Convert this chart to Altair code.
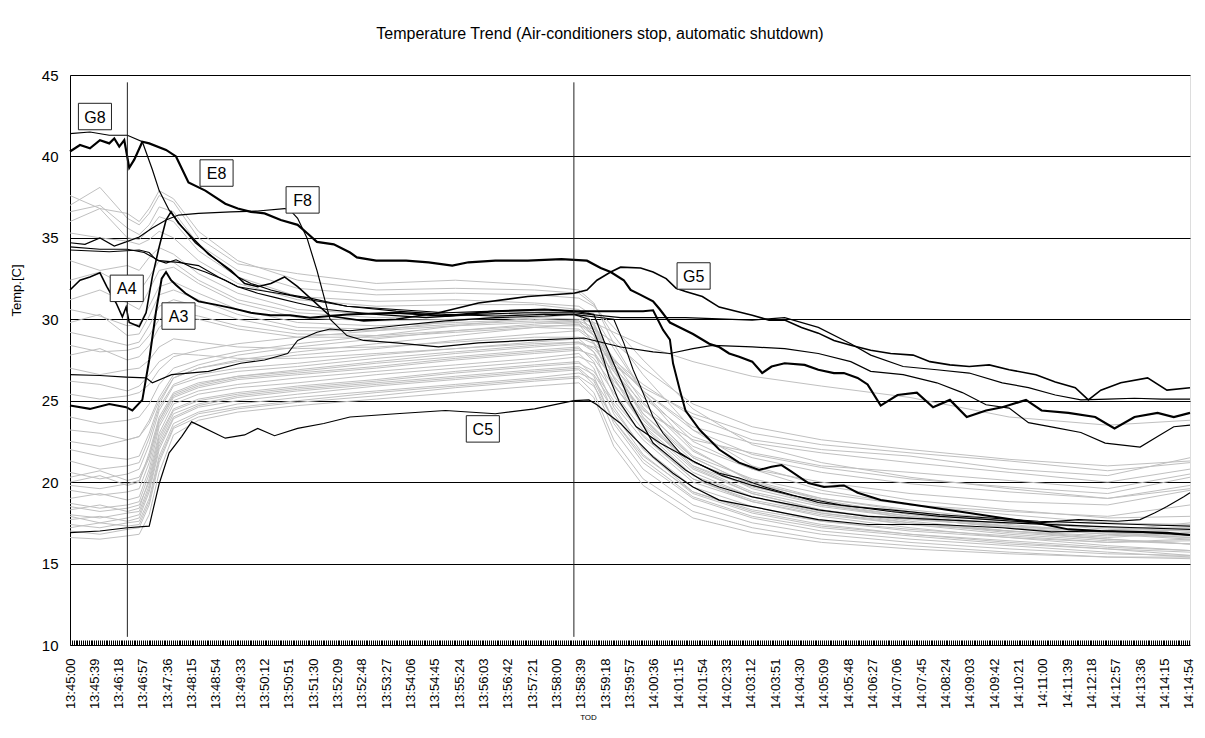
import altair as alt
import pandas as pd

# ---------------- data (time = seconds after 13:45:00, value = deg C) ----------------
GRAY_T = [0, 48, 92, 111, 127, 143, 166, 206, 269, 365, 491, 618, 745, 816, 840, 872, 919, 999, 1094, 1205, 1347, 1506, 1664, 1796]

U1 = [37.0, 38.1, 36.2, 35.8, 36.5, 37.6, 37.2, 35.0, 33.4, 32.8, 32.2, 32.4, 32.1, 31.8, 31.0, 28.5, 25.5, 22.0, 20.0, 18.9, 18.0, 17.4, 16.9, 16.6]
U2 = [36.6, 37.0, 35.6, 35.2, 35.8, 36.9, 36.6, 34.6, 33.0, 31.9, 31.5, 31.6, 31.5, 31.3, 30.8, 29.5, 27.5, 24.5, 22.3, 21.2, 20.3, 19.6, 19.0, 19.6]
U3 = [36.0, 36.8, 35.0, 34.9, 35.5, 36.3, 36.0, 34.2, 32.6, 31.4, 31.1, 31.2, 31.0, 30.8, 30.2, 28.2, 25.5, 22.5, 20.8, 19.5, 18.6, 18.0, 17.5, 17.4]
U4 = [37.6, 36.8, 36.5, 36.0, 36.8, 37.9, 37.4, 35.4, 33.6, 32.4, 31.8, 31.9, 31.8, 31.6, 30.9, 29.0, 26.6, 23.2, 21.0, 19.8, 18.9, 18.3, 17.8, 17.9]
M1 = [35.3, 35.0, 34.8, 34.6, 34.9, 35.4, 35.0, 33.6, 32.2, 31.2, 30.8, 30.9, 30.9, 30.6, 29.6, 27.2, 24.6, 21.5, 19.8, 18.6, 17.8, 17.2, 16.8, 16.5]
M2 = [33.6, 33.0, 33.3, 33.0, 33.8, 34.4, 34.0, 32.8, 31.6, 30.6, 30.3, 30.4, 30.5, 30.3, 29.0, 26.4, 23.8, 20.9, 19.3, 18.3, 17.5, 16.9, 16.5, 16.2]
M3 = [31.2, 31.8, 31.0, 30.6, 31.8, 33.0, 33.2, 32.2, 31.0, 30.1, 29.9, 30.0, 30.1, 30.0, 29.8, 29.2, 28.4, 27.4, 26.5, 25.9, 25.2, 24.0, 23.5, 23.8]
M4 = [30.6, 30.2, 29.6, 29.7, 30.8, 32.0, 32.3, 31.6, 30.6, 29.8, 29.6, 29.8, 30.0, 29.9, 29.0, 27.0, 25.2, 22.8, 21.5, 20.6, 19.9, 19.4, 19.0, 19.8]
M5 = [29.2, 28.8, 28.4, 28.6, 29.6, 30.8, 31.2, 30.8, 30.0, 29.3, 29.3, 29.6, 29.8, 29.7, 28.5, 26.0, 23.6, 21.2, 19.9, 19.0, 18.3, 17.7, 17.2, 17.0]
M6 = [27.8, 28.2, 27.5, 27.7, 28.4, 29.5, 30.2, 30.0, 29.4, 28.9, 28.9, 29.2, 29.5, 29.4, 28.8, 27.2, 25.8, 24.2, 23.0, 22.3, 21.8, 21.3, 20.7, 21.2]
M7 = [27.0, 26.6, 26.9, 27.0, 27.5, 28.3, 28.8, 28.6, 28.3, 28.2, 28.3, 28.6, 28.9, 28.9, 28.5, 27.5, 26.0, 24.0, 22.6, 22.0, 21.6, 20.8, 20.4, 21.5]
M8 = [26.2, 26.0, 25.6, 25.9, 26.6, 27.4, 27.9, 27.8, 27.6, 27.6, 27.9, 28.2, 28.5, 28.6, 28.0, 26.2, 24.4, 22.6, 21.8, 21.0, 20.6, 20.1, 19.6, 20.5]
M9 = [32.4, 32.9, 32.0, 31.7, 32.6, 33.6, 33.5, 32.4, 31.2, 30.4, 30.1, 30.2, 30.4, 30.2, 29.3, 26.8, 24.2, 21.3, 19.6, 18.6, 17.9, 17.3, 16.9, 16.7]
M10 = [29.8, 30.3, 29.0, 29.1, 30.2, 31.5, 31.8, 31.2, 30.3, 29.5, 29.4, 29.7, 29.9, 29.8, 29.2, 27.6, 25.6, 23.2, 21.7, 20.9, 20.2, 19.7, 19.3, 20.3]
M11 = [28.4, 28.0, 28.1, 28.3, 29.0, 30.0, 30.5, 30.2, 29.6, 29.1, 29.0, 29.3, 29.6, 29.6, 29.4, 28.6, 27.0, 24.8, 23.4, 22.6, 22.0, 21.4, 21.0, 21.3]
L1 = [22.0, 21.6, 21.4, 21.6, 23.0, 24.8, 26.4, 27.0, 27.4, 27.8, 28.2, 28.7, 29.1, 29.3, 28.6, 26.0, 23.5, 20.8, 19.3, 18.3, 17.6, 17.0, 16.5, 16.2]
L2 = [21.3, 20.8, 21.0, 21.2, 22.7, 24.6, 26.0, 26.6, 27.0, 27.3, 27.8, 28.2, 28.6, 28.8, 28.0, 25.3, 22.8, 20.2, 18.8, 17.9, 17.2, 16.6, 16.1, 15.8]
L3 = [20.6, 20.2, 20.5, 20.8, 22.3, 24.4, 25.9, 26.4, 26.8, 27.1, 27.6, 28.0, 28.4, 28.6, 28.2, 26.8, 24.8, 22.2, 20.8, 20.0, 19.3, 18.8, 18.6, 19.5]
L4 = [20.0, 20.4, 19.8, 20.0, 21.8, 24.0, 25.5, 26.1, 26.5, 26.8, 27.3, 27.7, 28.1, 28.3, 27.4, 24.6, 22.0, 19.4, 18.2, 17.4, 16.8, 16.3, 15.9, 15.5]
L5 = [19.5, 19.2, 19.4, 19.6, 21.2, 23.6, 25.2, 25.8, 26.3, 26.6, 27.0, 27.5, 27.9, 28.1, 27.8, 26.5, 24.5, 21.6, 20.2, 19.3, 18.6, 18.2, 17.9, 18.6]
L6 = [19.0, 19.3, 18.9, 19.1, 20.8, 23.4, 25.0, 25.6, 26.0, 26.4, 26.8, 27.2, 27.6, 27.9, 27.0, 24.2, 21.7, 19.3, 18.1, 17.3, 16.8, 16.4, 16.0, 15.8]
L7 = [18.7, 18.4, 18.6, 18.8, 20.5, 23.0, 24.8, 25.4, 25.8, 26.1, 26.6, 27.0, 27.4, 27.7, 27.3, 25.5, 23.2, 20.4, 19.1, 18.2, 17.7, 17.3, 17.0, 17.5]
L8 = [18.3, 18.6, 18.2, 18.4, 20.2, 22.8, 24.5, 25.1, 25.5, 25.9, 26.3, 26.8, 27.2, 27.4, 26.5, 23.6, 21.2, 19.0, 17.8, 17.0, 16.5, 16.1, 15.7, 15.4]
L9 = [18.0, 17.8, 18.1, 18.2, 19.8, 22.4, 24.2, 24.8, 25.3, 25.7, 26.1, 26.5, 26.9, 27.1, 26.6, 24.8, 22.6, 20.0, 18.8, 18.0, 17.4, 17.0, 16.6, 16.9]
L10 = [17.7, 17.9, 17.6, 17.8, 19.4, 22.0, 23.9, 24.6, 25.0, 25.4, 25.9, 26.3, 26.7, 26.9, 26.0, 23.2, 20.8, 18.6, 17.5, 16.8, 16.3, 15.9, 15.6, 15.5]
L11 = [17.4, 17.2, 17.5, 17.6, 19.0, 21.6, 23.6, 24.3, 24.8, 25.2, 25.6, 26.0, 26.4, 26.7, 26.3, 24.4, 22.1, 19.7, 18.5, 17.6, 17.1, 16.7, 16.3, 16.5]
L12 = [17.0, 16.8, 17.1, 17.2, 18.6, 21.2, 23.3, 24.0, 24.5, 24.9, 25.3, 25.8, 26.2, 26.4, 25.5, 22.6, 20.2, 18.2, 17.2, 16.5, 16.1, 15.7, 15.4, 15.3]
L13 = [20.3, 20.7, 20.1, 20.3, 21.6, 23.8, 25.4, 26.0, 26.5, 26.9, 27.4, 27.9, 28.3, 28.5, 28.3, 27.4, 25.6, 23.4, 22.4, 21.8, 21.2, 20.6, 20.0, 20.8]
L14 = [22.5, 22.2, 22.6, 22.8, 23.8, 25.2, 26.6, 27.2, 27.8, 28.3, 28.8, 29.3, 29.7, 29.9, 29.5, 27.0, 24.2, 21.5, 19.8, 18.7, 17.9, 17.3, 16.9, 16.8]
L15 = [24.0, 23.6, 23.8, 24.0, 24.8, 26.0, 27.0, 27.5, 28.0, 28.5, 29.0, 29.6, 30.1, 30.3, 29.7, 27.5, 24.9, 21.9, 20.1, 19.0, 18.2, 17.6, 17.1, 17.0]
L16 = [25.4, 25.1, 25.3, 25.5, 26.0, 26.9, 27.7, 28.1, 28.5, 28.9, 29.3, 29.9, 30.4, 30.6, 29.8, 27.0, 24.0, 21.0, 19.4, 18.5, 17.8, 17.2, 16.8, 16.6]
L17 = [23.2, 23.0, 22.6, 22.8, 23.6, 25.0, 26.4, 27.0, 27.5, 28.0, 28.5, 29.0, 29.5, 29.7, 29.0, 26.4, 23.4, 20.6, 19.1, 18.1, 17.4, 16.8, 16.4, 16.2]
L18 = [19.8, 19.6, 19.9, 20.1, 21.5, 23.8, 25.3, 25.9, 26.4, 26.7, 27.1, 27.6, 28.0, 28.2, 27.6, 25.9, 23.9, 21.0, 19.7, 18.8, 18.1, 17.6, 17.2, 17.2]
L19 = [18.5, 18.2, 18.4, 18.6, 20.0, 22.6, 24.4, 25.0, 25.4, 25.8, 26.2, 26.7, 27.1, 27.3, 26.8, 25.0, 22.9, 20.2, 18.9, 18.1, 17.5, 17.0, 16.7, 16.9]
L20 = [17.9, 17.5, 17.8, 18.0, 19.6, 22.2, 24.0, 24.7, 25.2, 25.6, 26.0, 26.4, 26.8, 27.0, 26.2, 23.8, 21.4, 19.1, 17.9, 17.2, 16.7, 16.2, 15.9, 15.7]
L21 = [17.2, 17.5, 17.3, 17.4, 18.8, 21.4, 23.4, 24.2, 24.6, 25.0, 25.5, 25.9, 26.3, 26.5, 25.9, 23.8, 21.6, 19.4, 18.3, 17.6, 17.0, 16.6, 16.3, 16.4]
L22 = [16.6, 16.5, 16.7, 16.8, 18.0, 20.6, 22.9, 23.8, 24.3, 24.7, 25.1, 25.5, 25.9, 26.1, 25.2, 22.2, 19.8, 17.8, 16.9, 16.3, 15.9, 15.6, 15.4, 15.4]

GRAY = [U1, U2, U3, U4, M1, M2, M3, M4, M5, M6, M7, M8, M9, M10, M11,
        L1, L2, L3, L4, L5, L6, L7, L8, L9, L10, L11, L12, L13, L14, L15, L16,
        L17, L18, L19, L20, L21, L22]

# highlighted (black) sensors
E8_T = [0, 16, 32, 48, 63, 71, 79, 87, 95, 103, 116, 127, 154, 170, 190, 217, 249, 269, 290, 312,
        338, 365, 380, 396, 423, 449, 460, 491, 539, 575, 613, 639, 682, 734, 788, 829, 851, 867, 888, 899,
        915, 935, 946, 956, 962, 978, 999, 1025, 1041, 1057, 1073, 1094, 1110, 1125, 1146, 1178, 1200, 1225, 1241, 1263,
        1279, 1300, 1327, 1358, 1384, 1411, 1438, 1469, 1495, 1533, 1558, 1601, 1644, 1675, 1707, 1744, 1770, 1796]
E8_V = [40.3, 40.7, 40.5, 41.0, 40.8, 41.1, 40.6, 41.0, 39.3, 39.8, 40.9, 40.8, 40.4, 40.0, 38.4, 37.9, 37.1, 36.8, 36.6, 36.5,
        36.1, 35.8, 35.3, 34.75, 34.6, 34.1, 33.8, 33.6, 33.6, 33.5, 33.3, 33.5, 33.6, 33.6, 33.7, 33.6, 33.15, 32.9, 32.4, 31.8,
        31.5, 31.1, 30.6, 30.1, 29.8, 29.5, 29.1, 28.5, 28.3, 27.9, 27.7, 27.4, 26.7, 27.1, 27.3, 27.2, 26.9, 26.7, 26.7, 26.4,
        26.0, 24.7, 25.35, 25.5, 24.6, 25.05, 24.0, 24.4, 24.6, 25.05, 24.4, 24.25, 24.0, 23.3, 24.0, 24.25, 24.0, 24.25]

G8_T = [0, 32, 63, 92, 116, 132, 143, 159, 179, 201, 222, 249, 269, 290, 322, 353, 385, 444, 523, 602,
        682, 761, 808, 840, 856, 883, 899, 935, 962, 987, 1014, 1041, 1094, 1146, 1200, 1279, 1395, 1506, 1633, 1712, 1796]
G8_V = [41.4, 41.5, 41.3, 41.3, 40.9, 39.2, 37.9, 36.7, 35.7, 34.7, 34.05, 33.2, 32.6, 32.2, 31.8, 31.5, 31.3, 30.8, 30.6, 30.4,
        30.5, 30.6, 30.5, 30.3, 28.7, 26.3, 24.85, 22.4, 21.55, 20.75, 20.1, 19.7, 19.1, 18.7, 18.3, 17.9, 17.7, 17.5, 17.3, 17.2, 17.1]

F8_T = [0, 24, 48, 71, 90, 111, 132, 154, 174, 206, 258, 301, 344, 353, 365, 380, 396, 417, 444, 471,
        523, 591, 655, 734, 824, 883, 935, 962, 999, 1030, 1094, 1146, 1200, 1252, 1284, 1336, 1390, 1431, 1469, 1506,
        1537, 1580, 1621, 1660, 1716, 1744, 1770, 1796]
F8_V = [34.7, 34.6, 35.0, 34.5, 34.75, 35.05, 35.6, 36.1, 36.4, 36.5, 36.6, 36.65, 36.8, 36.7, 36.2, 35.0, 33.0, 30.0, 29.0, 28.7,
        28.55, 28.3, 28.55, 28.7, 28.85, 28.3, 28.0, 27.9, 28.2, 28.4, 28.3, 28.2, 27.9, 27.4, 26.8, 26.6, 26.1, 25.5, 24.75, 24.55,
        23.65, 23.35, 23.05, 22.4, 22.15, 22.8, 23.4, 23.5]

B1_T = [0, 48, 92, 119, 143, 174, 206, 238, 269, 301, 333, 365, 412, 491, 571, 650, 729, 808, 883, 987,
        1094, 1146, 1200, 1252, 1284, 1336, 1390, 1442, 1495, 1537, 1580, 1621, 1664, 1707, 1751, 1796]
B1_V = [34.45, 34.3, 34.3, 34.1, 33.6, 33.5, 33.3, 32.6, 32.0, 31.6, 31.3, 31.0, 30.6, 30.3, 30.1, 30.3, 30.4, 30.4, 30.1, 30.1,
        29.95, 30.1, 29.5, 28.5, 27.8, 27.1, 26.9, 26.7, 26.1, 25.8, 25.35, 25.05, 25.1, 25.15, 25.1, 25.1]

A4_T = [0, 16, 32, 48, 59, 74, 84, 90, 95, 111, 122, 132, 143, 154, 162, 174, 195, 222, 258, 280,
        301, 322, 344, 365, 417, 471, 523, 591, 655, 734, 808, 829, 845, 867, 883, 915, 935, 956, 972, 987,
        1014, 1041, 1073, 1094, 1121, 1146, 1173, 1200, 1225, 1252, 1284, 1316, 1352, 1379, 1411, 1442, 1474, 1506, 1549, 1580,
        1612, 1633, 1653, 1685, 1728, 1759, 1796]
A4_V = [31.8, 32.4, 32.6, 32.85, 32.0, 31.0, 30.15, 30.75, 29.8, 29.55, 30.4, 32.6, 34.45, 36.1, 36.6, 35.9, 35.05, 34.0, 33.0, 32.2,
        32.0, 32.2, 32.6, 32.0, 30.2, 29.9, 30.0, 30.4, 31.0, 31.4, 31.6, 31.8, 32.4, 32.9, 33.2, 33.15, 32.9, 32.5, 31.9, 31.7,
        31.4, 30.75, 30.45, 30.25, 29.95, 29.95, 29.5, 29.15, 28.7, 28.4, 28.1, 27.9, 27.8, 27.4, 27.2, 27.1, 27.2, 26.9, 26.6, 26.15,
        25.8, 25.05, 25.65, 26.1, 26.4, 25.65, 25.8]

A3_T = [0, 32, 63, 90, 100, 116, 127, 138, 147, 154, 162, 170, 185, 206, 233, 258, 290, 322, 353, 385,
        444, 523, 602, 682, 761, 808, 872, 919, 935, 951, 962, 967, 978, 987, 1010, 1041, 1073, 1105, 1125, 1141,
        1157, 1184, 1209, 1241, 1263, 1300, 1336, 1390, 1442, 1495, 1549, 1601, 1653, 1707, 1759, 1796]
A3_V = [24.7, 24.5, 24.8, 24.6, 24.4, 25.05, 27.5, 30.5, 32.5, 32.9, 32.4, 32.1, 31.6, 31.1, 30.9, 30.7, 30.4, 30.25, 30.25, 30.1,
        30.3, 30.4, 30.2, 30.5, 30.6, 30.5, 30.5, 30.5, 30.55, 29.35, 28.75, 27.3, 25.65, 24.4, 23.2, 22.0, 21.2, 20.75, 20.95, 21.05,
        20.65, 19.95, 19.7, 19.8, 19.35, 18.9, 18.7, 18.4, 18.1, 17.8, 17.5, 17.1, 17.0, 16.95, 16.9, 16.75]

D2_T = [0, 63, 111, 127, 138, 154, 170, 195, 217, 249, 269, 301, 333, 349, 385, 444, 523, 602, 682, 761,
        808, 872, 888, 903, 915, 935, 951, 978, 1003, 1041, 1073, 1114, 1146, 1200, 1252, 1316, 1395, 1474, 1553, 1633,
        1712, 1796]
D2_V = [34.25, 34.15, 34.25, 34.1, 33.65, 33.45, 33.65, 33.2, 32.9, 32.4, 32.0, 31.8, 31.6, 31.5, 31.2, 30.8, 30.5, 30.3, 30.2, 30.3,
        30.3, 30.0, 28.55, 26.9, 25.85, 24.0, 23.0, 21.8, 21.2, 20.55, 20.25, 19.7, 19.35, 18.75, 18.5, 18.3, 18.0, 17.8, 17.6, 17.5,
        17.4, 17.3]

D4_T = [0, 48, 90, 122, 132, 163, 222, 274, 312, 349, 365, 396, 417, 449, 523, 602, 682, 761, 808, 832,
        848, 864, 880, 908, 946, 999, 1046, 1094, 1157, 1236, 1316, 1395, 1474, 1553, 1617, 1680, 1716, 1739, 1759, 1786,
        1796]
D4_V = [26.6, 26.55, 26.45, 26.4, 26.1, 26.6, 26.8, 27.3, 27.5, 27.9, 28.7, 29.2, 29.4, 29.3, 29.6, 29.9, 30.1, 30.2, 30.3, 30.0,
        28.5, 26.5, 25.0, 23.4, 22.4, 21.3, 20.4, 19.8, 19.2, 18.6, 18.2, 17.9, 17.7, 17.5, 17.7, 17.6, 17.7, 18.1, 18.5, 19.1,
        19.35]

C5_T = [0, 48, 92, 127, 143, 159, 179, 195, 206, 249, 280, 301, 328, 365, 407, 449, 523, 602, 682, 745,
        808, 832, 845, 861, 883, 903, 935, 967, 999, 1041, 1094, 1146, 1200, 1279, 1390, 1495, 1574, 1653, 1732, 1796]
C5_V = [16.9, 17.0, 17.2, 17.3, 19.9, 21.8, 22.8, 23.7, 23.5, 22.7, 22.9, 23.3, 22.85, 23.3, 23.6, 24.0, 24.2, 24.4, 24.2, 24.5,
        25.0, 25.05, 24.75, 24.25, 23.6, 22.8, 21.55, 20.55, 19.7, 18.9, 18.5, 18.1, 17.7, 17.4, 17.4, 17.2, 16.95, 17.0, 16.9, 16.75]

BLACK_NAMES = ["E8", "G8", "F8", "B1", "A4", "A3", "D2", "D4", "C5"]
BLACK_T = [E8_T, G8_T, F8_T, B1_T, A4_T, A3_T, D2_T, D4_T, C5_T]
BLACK_V = [E8_V, G8_V, F8_V, B1_V, A4_V, A3_V, D2_V, D4_V, C5_V]
BLACK_W = [2.2, 1.2, 1.2, 1.2, 1.6, 2.0, 1.1, 1.1, 1.2]

# event markers (vertical lines)
EVENT_T = [92, 808]
EVENT_TOP = [44.55, 44.55]
EVENT_BOT = [10.5, 10.5]

# callout labels
LABEL_TXT = ["G8", "E8", "F8", "A4", "A3", "G5", "C5"]
LABEL_T = [40, 235, 373, 91, 174, 1000, 662]
LABEL_V = [42.45, 38.98, 37.33, 31.9, 30.2, 32.66, 23.27]

# ---------------- tables ----------------
rows = []
for i, vals in enumerate(GRAY):
    for t, v in zip(GRAY_T, vals):
        rows.append({"s": f"g{i:02d}", "t": t, "v": v})
gray_df = pd.DataFrame(rows)

rows = []
for name, ts, vs, w in zip(BLACK_NAMES, BLACK_T, BLACK_V, BLACK_W):
    for t, v in zip(ts, vs):
        rows.append({"s": name, "t": t, "v": v, "w": w})
black_df = pd.DataFrame(rows)

rule_df = pd.DataFrame({"t": EVENT_T, "v": EVENT_TOP, "y2": EVENT_BOT})
lab_df = pd.DataFrame({"txt": LABEL_TXT, "t": LABEL_T, "v": LABEL_V})

FONT = "Liberation Sans"
xs = alt.Scale(domain=[0, 1796], nice=False, zero=False)
ys = alt.Scale(domain=[10, 45], nice=False, zero=False)

x_axis = alt.Axis(
    values=list(range(0, 1795, 3)),
    labelExpr="datum.value % 39 === 0 ? timeFormat(datetime(2020, 0, 1, 13, 45, datum.value), '%H:%M:%S') : ''",
    labelAngle=270, labelAlign="right", labelBaseline="middle",
    labelFontSize=13, labelFont=FONT, labelColor="black", labelPadding=13,
    labelOverlap=False, labelFlush=False, labelBound=False,
    ticks=True, tickSize=5, tickColor="black", tickWidth=1, offset=-5,
    domain=False, grid=False,
    title="TOD", titleFontSize=8, titleFont=FONT, titleFontWeight="normal", titleColor="black",
    titleX=518, titleY=77, titleBaseline="middle", titleAlign="center",
)
y_axis = alt.Axis(
    values=[10, 15, 20, 25, 30, 35, 40, 45],
    grid=True, gridColor="black", gridWidth=1, gridOpacity=1,
    ticks=False, domain=True, domainColor="black", domainWidth=1,
    labelFontSize=15, labelFont=FONT, labelColor="black", labelPadding=12,
    title="Temp.[C]", titleFontSize=13, titleFont=FONT, titleFontWeight="normal", titleColor="black",
    titleAngle=270, titleX=-54, titleY=215, titleAlign="center", titleBaseline="middle",
)

X = alt.X("t:Q", scale=xs, axis=x_axis)
Y = alt.Y("v:Q", scale=ys, axis=y_axis)

gray = alt.Chart(gray_df).mark_line(color="#c0c0c0", strokeWidth=1).encode(
    x=X, y=Y, detail="s:N",
)

black = alt.Chart(black_df).mark_line(color="black").encode(
    x=X, y=Y, detail="s:N",
    strokeWidth=alt.StrokeWidth("w:Q", scale=None),
)

rules = alt.Chart(rule_df).mark_rule(color="#222222", strokeWidth=1).encode(
    x=X, y=Y, y2="y2:Q",
)

boxes = alt.Chart(lab_df).mark_point(
    shape="M-1.25,-1L1.25,-1L1.25,1L-1.25,1Z", size=700, filled=True,
    fill="white", stroke="#222222", strokeWidth=1, opacity=1,
).encode(x=X, y=Y)

texts = alt.Chart(lab_df).mark_text(fontSize=16, font=FONT, color="black", align="center", baseline="middle", dy=1).encode(
    x=X, y=Y, text="txt:N",
)

chart = alt.layer(gray, black, rules, boxes, texts).properties(
    width=1120, height=570,
    title=alt.TitleParams(
        text="Temperature Trend (Air-conditioners stop, automatic shutdown)",
        fontSize=16, font=FONT, fontWeight="normal", color="black",
        anchor="middle", dx=-30, offset=26,
    ),
    autosize=alt.AutoSizeParams(type="none"),
    padding={"left": 62, "top": 67, "right": 7, "bottom": 81},
).configure_view(stroke="#808080", strokeWidth=1).configure(background="white")

chart.save("out.html", embed_options={"renderer": "svg", "actions": False})
